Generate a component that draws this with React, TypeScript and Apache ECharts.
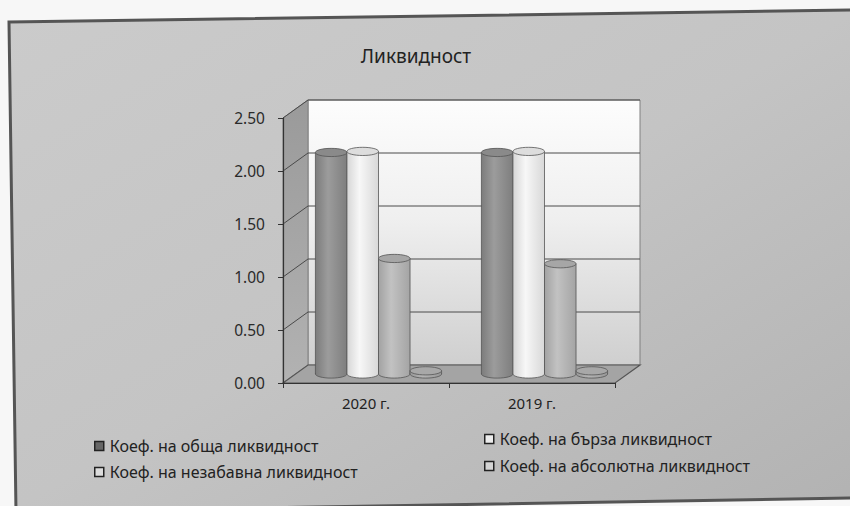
import React, { useEffect, useRef } from "react";
import * as echarts from "echarts";

const categories = ["2020 г.", "2019 г."];
const seriesNames = [
  "Коеф. на обща ликвидност",
  "Коеф. на бърза ликвидност",
  "Коеф. на незабавна ликвидност",
  "Коеф. на абсолютна ликвидност",
];
const obshta = [2.09, 2.09];
const barza = [2.1, 2.1];
const nezabavna = [1.09, 1.04];
const absolyutna = [0.03, 0.03];
const seriesValues = [obshta, barza, nezabavna, absolyutna];
const yTicks = [0, 0.5, 1, 1.5, 2, 2.5];

const FONT = "Noto Sans";
const DX = 25;
const DY = -18;

const bodyStops = [
  ["#7c7c7c", "#9c9c9c", "#7e7e7e"],
  ["#d6d6d6", "#f7f7f7", "#d8d8d8"],
  ["#a2a2a2", "#c2c2c2", "#a4a4a4"],
  ["#989898", "#b4b4b4", "#989898"],
];
const topColors = ["#8a8a8a", "#dddddd", "#a6a6a6", "#a8a8a8"];
const legendFill = ["#666666", "#ececec", "#dcdcdc", "#d4d4d4"];

function grad(stops: string[]) {
  return new echarts.graphic.LinearGradient(0, 0, 1, 0, [
    { offset: 0, color: stops[0] },
    { offset: 0.4, color: stops[1] },
    { offset: 1, color: stops[2] },
  ]);
}

export default function App() {
  const ref = useRef<HTMLDivElement>(null);
  useEffect(() => {
    if (!ref.current) return;
    const chart = echarts.init(ref.current, undefined, { renderer: "svg" });

    const frameSeries: any = {
      type: "custom",
      name: "frame",
      silent: true,
      z: 1,
      data: [[0, 0]],
      renderItem: (params: any, api: any) => {
        const cs = params.coordSys;
        const x = cs.x, y = cs.y, w = cs.width, h = cs.height;
        const children: any[] = [];
        children.push({
          type: "polygon",
          shape: { points: [[x + DX, y + DY], [x + w + DX, y + DY], [x + w + DX, y + h + DY], [x + DX, y + h + DY]] },
          style: {
            fill: new echarts.graphic.LinearGradient(0, 0, 0, 1, [
              { offset: 0, color: "#fdfdfd" },
              { offset: 0.45, color: "#efefef" },
              { offset: 1, color: "#cfcfcf" },
            ]),
            stroke: "#808080",
            lineWidth: 1,
          },
        });
        children.push({
          type: "polygon",
          shape: { points: [[x, y], [x + DX, y + DY], [x + DX, y + h + DY], [x, y + h]] },
          style: {
            fill: new echarts.graphic.LinearGradient(0, 0, 0, 1, [
              { offset: 0, color: "#9a9a9a" },
              { offset: 1, color: "#b2b2b2" },
            ]),
            stroke: "#808080",
            lineWidth: 1,
          },
        });
        children.push({
          type: "polygon",
          shape: { points: [[x, y + h], [x + DX, y + h + DY], [x + w + DX, y + h + DY], [x + w, y + h]] },
          style: { fill: "#a4a4a4", stroke: "#555555", lineWidth: 1.2 },
        });
        yTicks.forEach((t) => {
          if (t === 0) return;
          const yy = api.coord([0, t])[1];
          children.push({
            type: "line",
            shape: { x1: x + DX, y1: yy + DY, x2: x + w + DX, y2: yy + DY },
            style: { stroke: "#4a4a4a", lineWidth: 1 },
          });
          children.push({
            type: "line",
            shape: { x1: x, y1: yy, x2: x + DX, y2: yy + DY },
            style: { stroke: "#4a4a4a", lineWidth: 1 },
          });
        });
        return { type: "group", children };
      },
    };

    const barSeries: any[] = seriesNames.map((name, si) => ({
      type: "custom",
      name,
      z: 3,
      itemStyle: { color: legendFill[si] },
      data: categories.map((_, ci) => [ci, seriesValues[si][ci]]),
      encode: { x: 0, y: 1 },
      renderItem: (params: any, api: any) => {
        const ci = api.value(0);
        const v = api.value(1);
        const base = api.coord([ci, 0]);
        const top = api.coord([ci, v]);
        const band = api.size([1, 0])[0];
        const bw = band * 0.19;
        const cx = base[0] - 2 * bw + (si + 0.5) * bw + DX / 2;
        const yb = base[1] + DY / 2;
        const yt = top[1] + DY / 2;
        const ry = bw * 0.13;
        const rx = bw / 2;
        return {
          type: "group",
          children: [
            {
              type: "ellipse",
              shape: { cx, cy: yb, rx, ry },
              style: { fill: grad(bodyStops[si]), stroke: "#555555", lineWidth: 0.8 },
            },
            {
              type: "rect",
              shape: { x: cx - rx, y: yt, width: bw, height: Math.max(0, yb - yt) },
              style: { fill: grad(bodyStops[si]) },
            },
            {
              type: "line",
              shape: { x1: cx - rx, y1: yt, x2: cx - rx, y2: yb },
              style: { stroke: "#555555", lineWidth: 0.8 },
            },
            {
              type: "line",
              shape: { x1: cx + rx, y1: yt, x2: cx + rx, y2: yb },
              style: { stroke: "#555555", lineWidth: 0.8 },
            },
            {
              type: "ellipse",
              shape: { cx, cy: yt, rx, ry },
              style: { fill: topColors[si], stroke: "#555555", lineWidth: 0.8 },
            },
          ],
        };
      },
    }));

    const legendPos = [
      { left: 94, top: 438 },
      { left: 484, top: 431 },
      { left: 94, top: 464 },
      { left: 484, top: 458 },
    ];

    chart.setOption({
      animation: false,
      backgroundColor: "#f7f7f7",
      title: {
        text: "Ликвидност",
        left: 411,
        textAlign: "center",
        top: 41,
        textStyle: { fontFamily: FONT, fontSize: 19, fontWeight: "normal", color: "#222" },
      },
      graphic: [
        {
          type: "polygon",
          z: -10,
          silent: true,
          shape: { points: [[9, 22], [856, 10], [856, 498], [16, 512]] },
          style: {
            fill: new echarts.graphic.LinearGradient(0, 0, 1, 1, [
              { offset: 0, color: "#cbcbcb" },
              { offset: 0.5, color: "#c4c4c4" },
              { offset: 1, color: "#b2b2b2" },
            ]),
            stroke: "#555555",
            lineWidth: 3,
          },
        },
      ],
      legend: seriesNames.map((n, i) => ({
        data: [{ name: n, itemStyle: { color: legendFill[i], borderColor: "#222", borderWidth: 1.5 } }],
        left: legendPos[i].left,
        top: legendPos[i].top,
        padding: 0,
        icon: "rect",
        itemWidth: 9,
        itemHeight: 9,
        selectedMode: false,
        textStyle: { fontFamily: FONT, fontSize: 16, color: "#222", padding: [0, 0, 0, 1] },
      })),
      grid: { left: 283, right: 235, top: 118, bottom: 123 },
      xAxis: {
        type: "category",
        data: categories,
        z: 10,
        axisLine: { lineStyle: { color: "#333", width: 1.2 } },
        axisTick: { show: true, length: 5, lineStyle: { color: "#333" } },
        axisLabel: { fontFamily: FONT, fontSize: 15, color: "#222", margin: 12 },
      },
      yAxis: {
        type: "value",
        min: 0,
        max: 2.5,
        interval: 0.5,
        z: 10,
        axisLine: { show: true, lineStyle: { color: "#333", width: 1.2 } },
        axisTick: { show: true, length: 5, lineStyle: { color: "#333" } },
        splitLine: { show: false },
        axisLabel: {
          fontFamily: FONT,
          fontSize: 15.5,
          color: "#2a2a2a",
          margin: 18,
          formatter: (v: number) => v.toFixed(2),
        },
      },
      series: [frameSeries, ...barSeries],
    });

    return () => chart.dispose();
  }, []);

  return (
    <div
      ref={ref}
      style={{ position: "absolute", left: 0, top: 0, width: 850, height: 506 }}
    />
  );
}
